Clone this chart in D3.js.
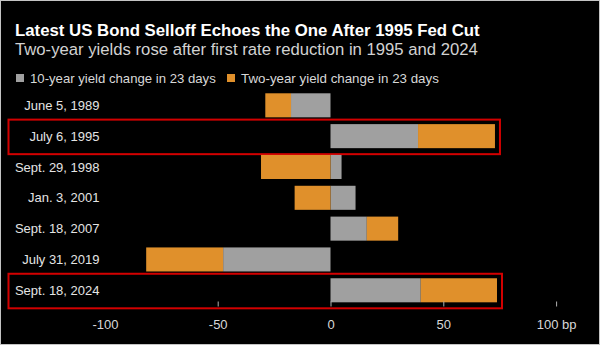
<!DOCTYPE html>
<html>
<head>
<meta charset="utf-8">
<script src="https://cdn.jsdelivr.net/npm/d3@7"></script>
<style>
  html, body { margin: 0; padding: 0; background: #000; }
  svg { display: block; font-family: "Liberation Sans", Arial, sans-serif; }
</style>
</head>
<body>
<div id="chart"></div>
<script>
const dates = ['June 5, 1989', 'July 6, 1995', 'Sept. 29, 1998', 'Jan. 3, 2001', 'Sept. 18, 2007', 'July 31, 2019', 'Sept. 18, 2024'];
// basis points, stacked: ten-year segment from zero, two-year segment on top of it
const tenYear = [-17.5, 38.8, 4.9, 11.1, 16.1, -47.6, 40.0];
const twoYear = [-11.4, 34.1, -30.8, -15.9, 13.9, -34.1, 33.8];
const highlighted = ['July 6, 1995', 'Sept. 18, 2024'];
const tickValues = [-100, -50, 0, 50, 100];
const seriesNames = ['10-year yield change in 23 days', 'Two-year yield change in 23 days'];

const width = 600;
const height = 345;
const colors = { ten: '#a0a0a0', two: '#e0902b' };

const rows = dates.map((d, i) => ({ date: d, ten: tenYear[i], two: twoYear[i] }));

const svg = d3.select('#chart')
  .append('svg')
  .attr('width', width)
  .attr('height', height);

svg.append('rect')
  .attr('width', width)
  .attr('height', height)
  .attr('fill', '#000');

// thin light frame of the screenshot
svg.append('rect')
  .attr('x', 0.5).attr('y', 0.5)
  .attr('width', width - 1).attr('height', height - 1)
  .attr('fill', 'none')
  .attr('stroke', '#c4c4c4')
  .attr('stroke-width', 1);

// shrink/grow a text's font so it fills a given width
function fitWidth(sel, target) {
  const node = sel.node();
  const size = parseFloat(sel.attr('font-size'));
  const len = node.getComputedTextLength();
  if (len > 0) sel.attr('font-size', (size * target / len).toFixed(2));
}

const title = svg.append('text')
  .attr('x', 15).attr('y', 35.5)
  .attr('fill', '#fff')
  .attr('font-size', 16.5)
  .attr('font-weight', 'bold')
  .text('Latest US Bond Selloff Echoes the One After 1995 Fed Cut');
fitWidth(title, 465);

const subtitle = svg.append('text')
  .attr('x', 15).attr('y', 55)
  .attr('fill', '#d2d2d2')
  .attr('font-size', 15)
  .text('Two-year yields rose after first rate reduction in 1995 and 2024');
fitWidth(subtitle, 463);

// legend
const legendX = [16, 227];
const legendWidths = [186, 198];
seriesNames.forEach((name, i) => {
  svg.append('rect')
    .attr('x', legendX[i]).attr('y', 74)
    .attr('width', 8).attr('height', 8)
    .attr('fill', i === 0 ? colors.ten : colors.two);
  const t = svg.append('text')
    .attr('x', legendX[i] + 14).attr('y', 82.5)
    .attr('fill', '#d8d8d8')
    .attr('font-size', 13)
    .text(name);
  fitWidth(t, legendWidths[i]);
});

const x = d3.scaleLinear()
  .domain([-100, 100])
  .range([104.9, 556.1]);

const y = d3.scaleBand()
  .domain(dates)
  .range([89.9, 305.7])
  .paddingInner(0.22)
  .paddingOuter(0.11);

const stack = d3.stack()
  .keys(['ten', 'two'])
  .offset(d3.stackOffsetDiverging);

const series = stack(rows);

// highlight boxes
svg.append('g')
  .selectAll('rect')
  .data(rows.filter((d) => highlighted.includes(d.date)))
  .enter()
  .append('rect')
  .attr('x', 8.5)
  .attr('y', (d) => y(d.date) - 4.5)
  .attr('width', (d) => x(Math.max(0, d.ten) + Math.max(0, d.two)) + 5 - 8.5)
  .attr('height', y.bandwidth() + 10.5)
  .attr('fill', 'none')
  .attr('stroke', '#d30000')
  .attr('stroke-width', 2);

// bars
svg.append('g')
  .selectAll('g')
  .data(series)
  .enter()
  .append('g')
  .attr('fill', (s) => (s.key === 'ten' ? colors.ten : colors.two))
  .selectAll('rect')
  .data((s) => s)
  .enter()
  .append('rect')
  .attr('x', (d) => x(Math.min(d[0], d[1])))
  .attr('y', (d) => y(d.data.date))
  .attr('width', (d) => Math.abs(x(d[1]) - x(d[0])))
  .attr('height', y.bandwidth());

// category labels
svg.append('g')
  .selectAll('text')
  .data(dates)
  .enter()
  .append('text')
  .attr('x', 99.5)
  .attr('y', (d) => y(d) + y.bandwidth() / 2)
  .attr('dy', '0.35em')
  .attr('text-anchor', 'end')
  .attr('fill', '#e4e4e4')
  .attr('font-size', 13)
  .text((d) => d);

// x axis
const axis = svg.append('g')
  .attr('transform', 'translate(0,301.5)')
  .call(d3.axisBottom(x)
    .tickValues(tickValues)
    .tickSize(5)
    .tickPadding(13.5)
    .tickFormat((d) => (d === 100 ? '100 bp' : d)));

axis.select('.domain').remove();
axis.selectAll('.tick line')
  .attr('stroke', '#b0b0b0')
  .attr('opacity', (d) => (d === -100 ? 0 : 1));
axis.selectAll('.tick text')
  .attr('fill', '#d8d8d8')
  .attr('font-size', 13)
  .attr('font-family', '"Liberation Sans", Arial, sans-serif');
</script>
</body>
</html>
